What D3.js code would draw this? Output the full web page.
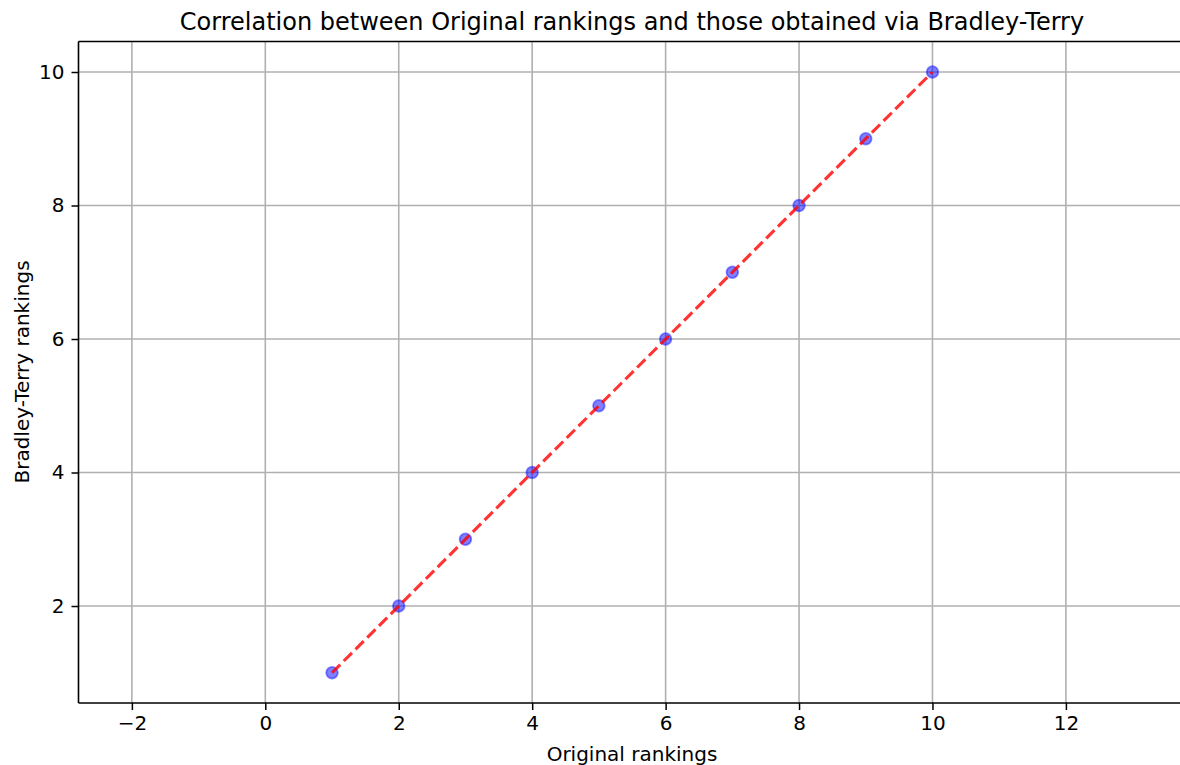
<!DOCTYPE html>
<html><head><meta charset="utf-8">
<script src="https://cdn.jsdelivr.net/npm/d3@7"></script>
<style>body{margin:0;background:#fff}svg{display:block}text{font-family:"DejaVu Sans",sans-serif;fill:#000}</style>
</head><body><svg id="c" width="1180" height="765"></svg>
<script>
const originalRanks = [1,2,3,4,5,6,7,8,9,10];
const btRanks = [1,2,3,4,5,6,7,8,9,10];
const fitLine = [[1,1],[10,10]];
const xTicks = [-2,0,2,4,6,8,10,12];
const yTicks = [2,4,6,8,10];
const title = "Correlation between Original rankings and those obtained via Bradley-Terry";
const xLabel = "Original rankings";
const yLabel = "Bradley-Terry rankings";

const svg = d3.select("#c");
const L=78.5, R=1186, T=41.5, B=703;
const x = d3.scaleLinear().domain([-2.8, 13.8]).range([L, R]);
const y = d3.scaleLinear().domain([0.547, 10.457]).range([B, T]);

// grid
svg.append("g").selectAll("line").data(xTicks).join("line")
  .attr("x1", d=>x(d)).attr("x2", d=>x(d)).attr("y1", T).attr("y2", B)
  .attr("stroke", "#b0b0b0").attr("stroke-width", 1.6);
svg.append("g").selectAll("line").data(yTicks).join("line")
  .attr("y1", d=>y(d)).attr("y2", d=>y(d)).attr("x1", L).attr("x2", R)
  .attr("stroke", "#b0b0b0").attr("stroke-width", 1.6);

// axes
const fmt = d => d < 0 ? "\u2212" + Math.abs(d) : String(d);
const xAxis = d3.axisBottom(x).tickValues(xTicks).tickFormat(fmt).tickSize(7).tickPadding(6);
const yAxis = d3.axisLeft(y).tickValues(yTicks).tickFormat(fmt).tickSize(7).tickPadding(7);
const gx = svg.append("g").attr("transform", `translate(0,${B})`).call(xAxis);
const gy = svg.append("g").attr("transform", `translate(${L},0)`).call(yAxis);
[gx, gy].forEach(g => {
  g.select(".domain").remove();
  g.selectAll(".tick line").attr("stroke", "#000").attr("stroke-width", 1.5);
  g.selectAll(".tick text").attr("font-size", 20).attr("font-family", "DejaVu Sans").attr("fill", "#000");
});
// spines
svg.append("line").attr("x1", L).attr("x2", L).attr("y1", T).attr("y2", B).attr("stroke", "#000").attr("stroke-width", 1.6);
svg.append("line").attr("x1", L).attr("x2", R).attr("y1", B).attr("y2", B).attr("stroke", "#000").attr("stroke-width", 1.6);
svg.append("line").attr("x1", L).attr("x2", R).attr("y1", T).attr("y2", T).attr("stroke", "#000").attr("stroke-width", 1.6);
svg.append("line").attr("x1", R).attr("x2", R).attr("y1", T).attr("y2", B).attr("stroke", "#000").attr("stroke-width", 1.6);

// points
svg.append("g").selectAll("circle").data(originalRanks.map((d,i)=>[d, btRanks[i]])).join("circle")
  .attr("cx", d=>x(d[0])).attr("cy", d=>y(d[1])).attr("r", 5.8)
  .attr("fill", "blue").attr("fill-opacity", 0.5)
  .attr("stroke", "blue").attr("stroke-opacity", 0.45).attr("stroke-width", 1.8);

// dashed line
svg.append("path").datum(fitLine)
  .attr("d", d3.line().x(d=>x(d[0])).y(d=>y(d[1])))
  .attr("fill", "none").attr("stroke", "red").attr("stroke-opacity", 0.8)
  .attr("stroke-width", 3.1).attr("stroke-dasharray", "11.6,5");

// labels
svg.append("text").attr("x", 632).attr("y", 30).attr("text-anchor", "middle").attr("font-size", 24).text(title);
svg.append("text").attr("x", 632).attr("y", 761).attr("text-anchor", "middle").attr("font-size", 20).text(xLabel);
svg.append("text").attr("transform", "translate(29,372) rotate(-90)").attr("text-anchor", "middle").attr("font-size", 20).text(yLabel);
</script></body></html>
